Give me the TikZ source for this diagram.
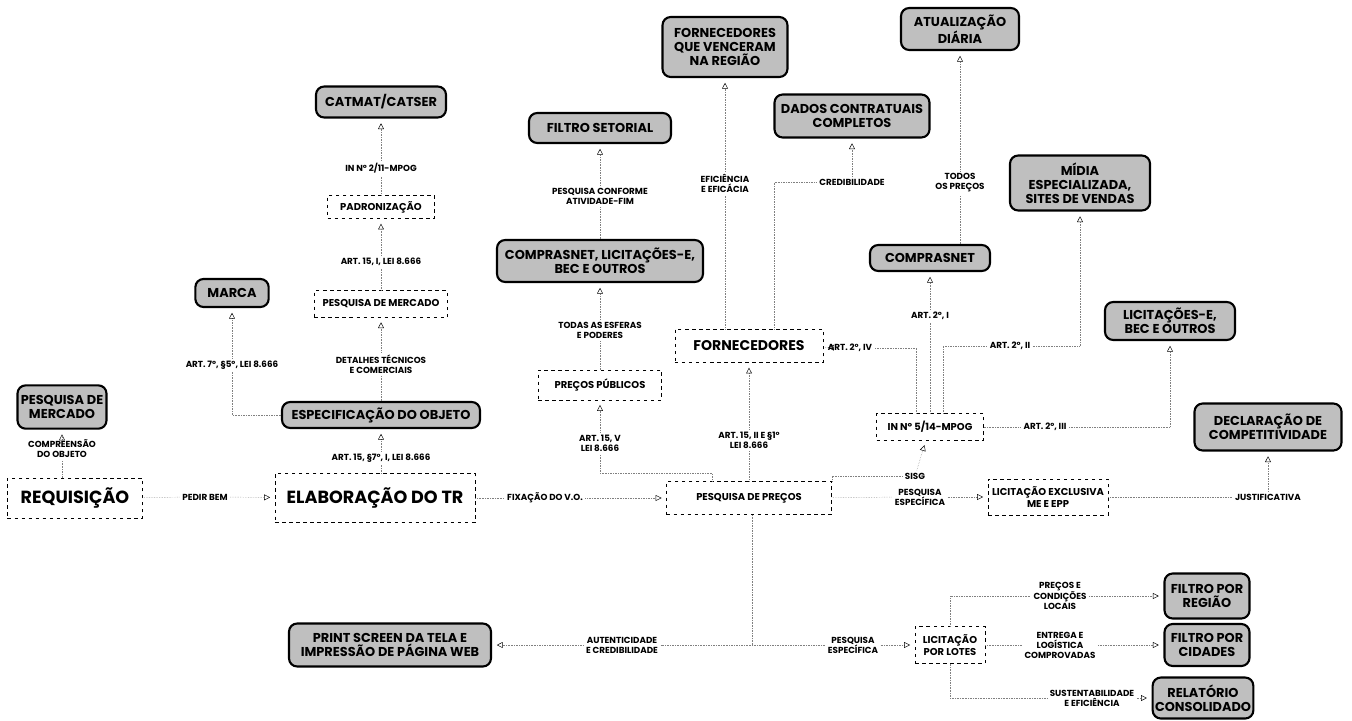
\documentclass[tikz,border=0pt]{standalone}
\usepackage{fontspec}
\setmainfont{Poppins}
\usetikzlibrary{arrows.meta}

\begin{document}
\begin{tikzpicture}[x=0.03cm, y=-0.03cm,
  topic/.style={draw, dashed, thin, font=\bfseries\fontsize{8.5}{9.5}\selectfont, align=center, inner sep=2pt},
  concept/.style={draw, line width=1.8pt, rounded corners=7pt, fill=gray!50, font=\bfseries\fontsize{11}{12}\selectfont, align=center, inner sep=2pt},
  lbl/.style={font=\bfseries\fontsize{7.5}{8.5}\selectfont, align=center, inner sep=2pt},
  link/.style={densely dotted, gray},
  arr/.style={link, -{Triangle[open, black, length=5pt, width=5pt]}, shorten >=4pt}]
  \fill[white] (0,0) rectangle (1352,720);
  \useasboundingbox (0,0) rectangle (1352,720);

  \node[topic, minimum width=4.05cm, minimum height=1.2cm, font=\bfseries\fontsize{15}{16}\selectfont] (req) at (75,498) {REQUISIÇÃO};
  \node[topic, minimum width=6cm, minimum height=1.47cm, font=\bfseries\fontsize{15}{16}\selectfont] (elab) at (375,498) {ELABORAÇÃO DO TR};
  \node[topic, minimum width=4.95cm, minimum height=1cm] (ppr) at (749,498) {PESQUISA DE PREÇOS};
  \node[topic, minimum width=3.6cm, minimum height=1.08cm] (licexcl) at (1048,497) {LICITAÇÃO EXCLUSIVA\\ME E EPP};
  \node[topic, minimum width=2.1cm, minimum height=1.1cm] (lotes) at (950,645) {LICITAÇÃO\\POR LOTES};
  \node[topic, minimum width=3.2cm, minimum height=0.8cm] (in514) at (930,427) {IN Nº 5/14-MPOG};
  \node[topic, minimum width=4.45cm, minimum height=1cm, font=\bfseries\fontsize{12}{13}\selectfont] (forn) at (749,346) {FORNECEDORES};
  \node[topic, minimum width=3.7cm, minimum height=0.9cm] (pubs) at (600,385) {PREÇOS PÚBLICOS};
  \node[topic, minimum width=4cm, minimum height=0.8cm] (pmerc) at (381,304) {PESQUISA DE MERCADO};
  \node[topic, minimum width=3.2cm, minimum height=0.7cm] (padron) at (381,207) {PADRONIZAÇÃO};

  \node[concept, minimum width=2.67cm, minimum height=1.3cm] (mercado) at (62,407) {PESQUISA DE\\MERCADO};
  \node[concept, minimum width=5.94cm, minimum height=0.78cm] (espec) at (381,415) {ESPECIFICAÇÃO DO OBJETO};
  \node[concept, minimum width=2.2cm, minimum height=0.84cm] (marca) at (232,293) {MARCA};
  \node[concept, minimum width=3.9cm, minimum height=0.93cm] (catmat) at (381,102) {CATMAT/CATSER};
  \node[concept, minimum width=6.18cm, minimum height=1.26cm] (compbec) at (600,261) {COMPRASNET, LICITAÇÕES-E,\\BEC E OUTROS};
  \node[concept, minimum width=4.26cm, minimum height=0.9cm] (filtroset) at (600,128) {FILTRO SETORIAL};
  \node[concept, minimum width=3.75cm, minimum height=1.8cm] (venc) at (725,47) {FORNECEDORES\\QUE VENCERAM\\NA REGIÃO};
  \node[concept, minimum width=4.65cm, minimum height=1.29cm] (dados) at (852,116) {DADOS CONTRATUAIS\\COMPLETOS};
  \node[concept, minimum width=3.54cm, minimum height=1.26cm] (atual) at (960,29) {ATUALIZAÇÃO\\DIÁRIA};
  \node[concept, minimum width=4.2cm, minimum height=1.65cm] (midia) at (1080,183) {MÍDIA\\ESPECIALIZADA,\\SITES DE VENDAS};
  \node[concept, minimum width=3.6cm, minimum height=0.78cm] (compras) at (930,258) {COMPRASNET};
  \node[concept, minimum width=3.9cm, minimum height=1.14cm] (licbec) at (1170,321) {LICITAÇÕES-E,\\BEC E OUTROS};
  \node[concept, minimum width=4.41cm, minimum height=1.41cm] (declar) at (1268,427) {DECLARAÇÃO DE\\COMPETITIVIDADE};
  \node[concept, minimum width=6.06cm, minimum height=1.29cm] (print) at (390,645) {PRINT SCREEN DA TELA E\\IMPRESSÃO DE PÁGINA WEB};
  \node[concept, minimum width=2.55cm, minimum height=1.35cm] (freg) at (1207,596) {FILTRO POR\\REGIÃO};
  \node[concept, minimum width=2.55cm, minimum height=1.26cm] (fcid) at (1207,645) {FILTRO POR\\CIDADES};
  \node[concept, minimum width=2.85cm, minimum height=1.23cm] (relat) at (1203,698) {RELATÓRIO\\CONSOLIDADO};

  \node[lbl] (compreensao) at (62,449) {COMPREENSÃO\\DO OBJETO};
  \node[lbl] (pedir) at (205,497) {PEDIR BEM};
  \node[lbl] (a15s7) at (381,458) {ART. 15, §7º, I, LEI 8.666};
  \node[lbl] (detalhes) at (381,364) {DETALHES TÉCNICOS\\E COMERCIAIS};
  \node[lbl] (a15i) at (381,262) {ART. 15, I, LEI 8.666};
  \node[lbl] (in211) at (381,168) {IN Nº 2/11-MPOG};
  \node[lbl] (a7) at (232,365) {ART. 7º, §5º, LEI 8.666};
  \node[lbl] (fixacao) at (545,498) {FIXAÇÃO DO V.O.};
  \node[lbl] (pesqesp) at (920,497) {PESQUISA\\ESPECÍFICA};
  \node[lbl] (justif) at (1268,497) {JUSTIFICATIVA};
  \node[lbl] (a15v) at (600,443) {ART. 15, V\\LEI 8.666};
  \node[lbl] (a15ii) at (749,440) {ART. 15, II E §1º\\LEI 8.666};
  \node[lbl] (sisg) at (915,476) {SISG};
  \node[lbl] (esferas) at (600,330) {TODAS AS ESFERAS\\E PODERES};
  \node[lbl] (atividade) at (600,196) {PESQUISA CONFORME\\ATIVIDADE-FIM};
  \node[lbl] (efic) at (725,183) {EFICIÊNCIA\\E EFICÁCIA};
  \node[lbl] (cred) at (852,182) {CREDIBILIDADE};
  \node[lbl] (todos) at (960,183) {TODOS\\OS PREÇOS};
  \node[lbl] (a2i) at (930,316) {ART. 2º, I};
  \node[lbl] (a2iv) at (850,348) {ART. 2º, IV};
  \node[lbl] (a2ii) at (1010,346) {ART. 2º, II};
  \node[lbl] (a2iii) at (1045,427) {ART. 2º, III};
  \node[lbl] (autent) at (622,645) {AUTENTICIDADE\\E CREDIBILIDADE};
  \node[lbl] (pesqesp2) at (853,645) {PESQUISA\\ESPECÍFICA};
  \node[lbl] (locais) at (1060,596) {PREÇOS E\\CONDIÇÕES\\LOCAIS};
  \node[lbl] (entrega) at (1060,645) {ENTREGA E\\LOGÍSTICA\\COMPROVADAS};
  \node[lbl] (sustent) at (1092,698) {SUSTENTABILIDADE\\E EFICIÊNCIA};

  \coordinate (upfork) at (712,473);
  \coordinate (downfork) at (752,645);

  \draw[link] (req.north -| compreensao) -- (compreensao);
  \draw[arr] (compreensao) -- (mercado);
  \draw[link] (req) -- (pedir);
  \draw[arr] (pedir) -- (elab);
  \draw[link] (elab.north -| a15s7) -- (a15s7);
  \draw[arr] (a15s7) -- (espec);
  \draw[link] (espec) -- (detalhes);
  \draw[arr] (detalhes) -- (pmerc);
  \draw[link] (pmerc) -- (a15i);
  \draw[arr] (a15i) -- (padron);
  \draw[link] (padron) -- (in211);
  \draw[arr] (in211) -- (catmat);
  \draw[link] (espec.west) -| (a7);
  \draw[arr] (a7) -- (marca);
  \draw[link] (elab) -- (fixacao);
  \draw[arr] (fixacao) -- (ppr);
  \draw[link] (ppr) -- (pesqesp);
  \draw[arr] (pesqesp) -- (licexcl);
  \draw[link] (licexcl) -- (justif);
  \draw[arr] (justif) -- (declar);
  \draw[link] (ppr.north -| upfork) -- (upfork) -| (a15v);
  \draw[arr] (a15v) -- (pubs);
  \draw[link] (ppr) -- (a15ii);
  \draw[arr] (a15ii) -- (forn);
  \draw[link] (ppr.north east) |- (sisg);
  \draw[arr] (sisg) -- (in514);
  \draw[link] (in514.north) -- (a2i);
  \draw[arr] (a2i) -- (compras);
  \draw[link] ([xshift=-0.4cm]in514.north) |- (a2iv);
  \draw[arr] (a2iv) -- (forn);
  \draw[link] ([xshift=0.4cm]in514.north) |- (a2ii);
  \draw[arr] (a2ii) -| (midia);
  \draw[link] (in514) -- (a2iii);
  \draw[arr] (a2iii) -| (licbec);
  \draw[link] (compras.north -| todos) -- (todos);
  \draw[arr] (todos) -- (atual);
  \draw[link] (forn.north -| efic) -- (efic);
  \draw[arr] (efic) -- (venc);
  \draw[link] ([xshift=0.75cm]forn.north) |- (cred);
  \draw[arr] (cred) -- (dados);
  \draw[link] (pubs) -- (esferas);
  \draw[arr] (esferas) -- (compbec);
  \draw[link] (compbec) -- (atividade);
  \draw[arr] (atividade) -- (filtroset);
  \draw[link] (ppr.south -| downfork) -- (downfork) -- (autent);
  \draw[arr] (autent) -- (print);
  \draw[link] (downfork) -- (pesqesp2);
  \draw[arr] (pesqesp2) -- (lotes);
  \draw[link] (lotes.north) |- (locais);
  \draw[arr] (locais) -- (freg);
  \draw[link] (lotes) -- (entrega);
  \draw[arr] (entrega) -- (fcid);
  \draw[link] (lotes.south) |- (sustent);
  \draw[arr] (sustent) -- (relat);
\end{tikzpicture}
\end{document}
